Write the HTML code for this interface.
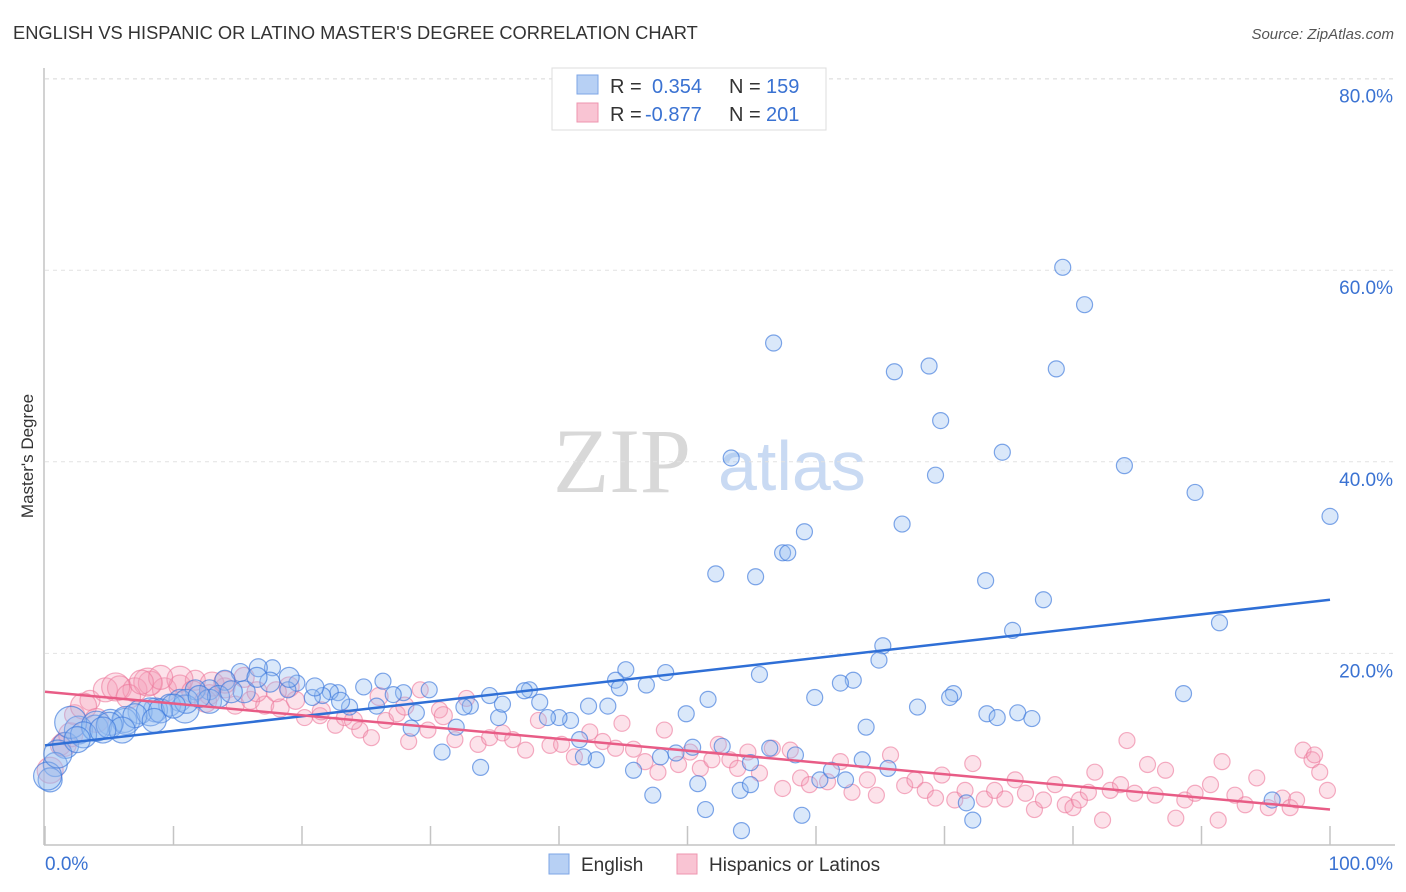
<!DOCTYPE html>
<html><head><meta charset="utf-8">
<style>
body{margin:0;background:#fff;font-family:"Liberation Sans",sans-serif;}
#wrap{position:relative;width:1406px;height:892px;overflow:hidden;}
</style></head>
<body>
<div id="wrap">
<svg id="svg" width="1406" height="892" xmlns="http://www.w3.org/2000/svg">
<text x="13" y="39" font-size="18.3" fill="#333">ENGLISH VS HISPANIC OR LATINO MASTER'S DEGREE CORRELATION CHART</text>
<text x="1394" y="39" font-size="15" fill="#555" font-style="italic" text-anchor="end">Source: ZipAtlas.com</text>
<text x="33" y="456" font-size="17" fill="#333" text-anchor="middle" transform="rotate(-90 33 456)">Master's Degree</text>
<g>
<text x="553" y="492" font-size="92" font-family="Liberation Serif,serif" fill="#d8d8d8">ZIP</text>
<text x="718" y="490" font-size="70" fill="#c9daf3">atlas</text>
</g>
<g id="grid"></g>
<g id="axes"></g>
<g id="marks"></g>
<g>
<rect x="552" y="68" width="274" height="62" fill="#fff" stroke="#ddd"/>
<rect x="577" y="75" width="21" height="19" fill="#b7d0f4" stroke="#7ea6e6"/>
<rect x="577" y="103" width="21" height="19" fill="#f9c4d3" stroke="#ee95af"/>
<text x="610" y="93" font-size="20" fill="#333">R = </text><text x="652" y="93" font-size="20" fill="#3a72d2">0.354</text>
<text x="729" y="93" font-size="20" fill="#333">N = </text><text x="766" y="93" font-size="20" fill="#3a72d2">159</text>
<text x="610" y="121" font-size="20" fill="#333">R = </text><text x="645" y="121" font-size="20" fill="#3a72d2">-0.877</text>
<text x="729" y="121" font-size="20" fill="#333">N = </text><text x="766" y="121" font-size="20" fill="#3a72d2">201</text>
</g>
<g>
<rect x="549" y="854" width="20" height="20" fill="#b7d0f4" stroke="#7ea6e6"/>
<text x="581" y="871" font-size="19" fill="#333">English</text>
<rect x="677" y="854" width="20" height="20" fill="#f9c4d3" stroke="#ee95af"/>
<text x="709" y="871" font-size="19" fill="#333">Hispanics or Latinos</text>
</g>
</svg>
</div>
<script>
const yTicks=[20,40,60,80];
const yTickLabels=["20.0%","40.0%","60.0%","80.0%"];
const xTicks=[0,10,20,30,40,50,60,70,80,90,100];
const englishX=[79.2,80.9,56.7,66.1,68.8,78.7,69.7,53.4,74.5,84.0,69.3,89.5,100,66.7,59.1,57.4,57.8,52.2,55.3,73.2,77.7,91.4,75.3,65.2,64.9,45.2,48.3,55.6,62.9,61.9,44.4,46.8,44.7,70.7,70.4,88.6,59.9,51.6,67.9,73.3,74.1,75.7,76.8,49.9,63.9,43.8,42.3,40.9,40.0,39.1,38.5,37.7,37.3,35.3,34.6,35.6,33.1,32.6,32.0,30.9,33.9,29.9,28.9,28.5,27.9,27.1,26.3,25.8,24.8,23.7,22.8,22.2,21.6,20.8,19.6,18.9,17.7,16.6,15.2,14.0,12.8,11.7,10.5,9.7,8.6,7.4,6.2,5.1,3.9,2.6,1.6,0.8,0.4,41.6,42.9,41.9,47.9,49.1,50.4,52.7,54.9,56.4,58.4,45.8,47.3,50.8,51.4,54.1,54.2,54.9,58.9,60.3,61.2,62.3,63.6,65.6,71.7,72.2,95.5,0.2,2.0,4.0,6.3,8.2,10.9,12.8,3.0,5.0,7.0,9.0,11.0,13.5,15.5,17.5,19.0,21.0,23.0,6.0,8.5,10.0,12.0,14.5,16.5,1.0,2.5,4.5];
const englishY=[60.3,56.4,52.4,49.4,50.0,49.7,44.3,40.4,41.0,39.6,38.6,36.8,34.3,33.5,32.7,30.5,30.5,28.3,28.0,27.6,25.6,23.2,22.4,20.8,19.3,18.3,18.0,17.8,17.2,16.9,17.2,16.7,16.4,15.8,15.4,15.8,15.4,15.2,14.4,13.7,13.3,13.8,13.2,13.7,12.3,14.5,14.5,13.0,13.3,13.3,14.9,16.2,16.1,13.3,15.6,14.7,14.5,14.4,12.3,9.7,8.1,16.2,13.8,12.2,15.9,15.7,17.1,14.5,16.5,14.4,15.9,16.0,15.6,15.4,16.9,16.2,18.5,18.5,18.0,17.2,16.2,16.2,15.1,14.6,14.1,13.9,13.0,12.8,12.2,12.0,10.4,8.4,6.8,11.0,8.9,9.2,9.2,9.6,10.2,10.3,8.6,10.1,9.4,7.8,5.2,6.4,3.7,5.7,1.5,6.3,3.1,6.8,7.8,6.8,8.9,8.0,4.4,2.6,4.7,7.2,12.8,12.4,13.0,13.9,14.2,15.0,11.5,12.5,13.5,14.0,15.0,15.5,16.0,17.0,17.5,16.5,15.0,12.0,13.0,14.5,15.5,16.0,17.5,9.5,11.0,12.0];
const englishSize=[8,8,8,8,8,8,8,8,8,8,8,8,8,8,8,8,8,8,8,8,8,8,8,8,8,8,8,8,8,8,8,8,8,8,8,8,8,8,8,8,8,8,8,8,8,8,8,8,8,8,8,8,8,8,8,8,8,8,8,8,8,8,8,8,8,8,8,8,8,8,8,8,8,8,8,8,8,9,9,10,10,10,11,11,12,12,12,13,13,14,13,12,12,8,8,8,8,8,8,8,8,8,8,8,8,8,8,8,8,8,8,8,8,8,8,8,8,8,8,14,16,15,14,14,14,12,13,13,12,12,12,11,11,10,10,9,9,13,12,12,11,11,10,14,13,13];
const hispX=[0.4,1.2,2.3,3.5,4.7,5.8,7.0,8.2,9.3,10.5,11.7,12.8,14.0,14.8,16.0,17.1,18.3,19.5,20.2,21.4,22.6,23.3,24.5,25.4,26.5,27.4,28.3,29.2,29.8,30.7,31.9,32.8,33.7,34.6,35.6,36.4,37.4,38.4,39.3,40.2,41.2,42.4,43.4,44.4,44.9,45.8,46.7,47.7,48.2,49.3,50.2,51.0,51.9,52.4,53.3,53.9,54.7,55.6,56.6,57.4,58.0,58.8,59.5,60.9,61.9,62.8,64.0,64.7,65.8,66.9,67.7,68.5,69.3,69.8,70.8,71.6,72.2,73.1,73.9,74.7,75.5,76.3,77.0,77.7,78.6,79.4,80.0,80.5,81.2,81.7,82.3,82.9,83.7,84.2,84.8,85.8,86.4,87.2,88.0,88.7,89.5,90.7,91.6,91.3,92.6,93.4,94.3,95.2,96.3,96.9,97.4,97.9,98.6,99.2,99.8,98.8,1.5,3.0,5.5,8.0,10.5,13.0,4.0,6.5,9.0,11.5,14.0,16.5,19.0,21.5,24.0,26.0,28.0,31.0,2.0,7.5,12.5,15.5,18.0];
const hispY=[7.8,10.4,13.6,15.1,16.2,16.4,16.2,16.9,16.2,16.6,17.2,15.7,16.4,14.6,15.1,14.6,14.3,15.1,13.3,13.5,12.5,13.3,12.0,11.2,13.0,13.7,10.8,16.2,12.0,14.1,11.0,15.3,10.5,11.2,11.7,11.0,9.9,13.0,10.4,10.5,9.2,11.8,10.8,10.1,12.7,10.0,8.7,7.6,12.0,8.4,9.7,8.0,8.9,10.5,8.9,8.0,9.7,7.5,10.1,5.9,9.9,7.0,6.3,6.6,8.7,5.5,6.8,5.2,9.4,6.2,6.8,5.7,4.9,7.3,4.7,5.7,8.5,4.8,5.7,4.8,6.8,5.4,3.7,4.7,6.3,4.2,3.9,4.7,5.5,7.6,2.6,5.7,6.3,10.9,5.4,8.4,5.2,7.8,2.8,4.7,5.4,6.3,8.7,2.6,5.2,4.2,7.0,3.9,4.9,3.9,4.7,9.9,8.9,7.6,5.7,9.4,10.5,14.5,16.5,17.0,17.3,16.8,13.0,15.5,17.5,16.0,17.0,16.0,16.5,14.0,13.0,15.5,14.5,13.5,11.5,17.0,15.0,17.5,16.0];
const hispSize=[13,10,10,10,12,12,12,12,12,11,10,10,10,9,9,9,9,9,8,8,8,8,8,8,8,8,8,8,8,8,8,8,8,8,8,8,8,8,8,8,8,8,8,8,8,8,8,8,8,8,8,8,8,8,8,8,8,8,8,8,8,8,8,8,8,8,8,8,8,8,8,8,8,8,8,8,8,8,8,8,8,8,8,8,8,8,8,8,8,8,8,8,8,8,8,8,8,8,8,8,8,8,8,8,8,8,8,8,8,8,8,8,8,8,8,8,12,13,14,14,13,12,12,12,12,11,11,10,10,9,9,9,9,9,12,12,11,10,10];
const englishTrend=[10.4,25.6];
const hispTrend=[16.0,3.7];

const X0=45,X1=1330,Y0=845,PPY=9.58;
function sx(v){return X0+(X1-X0)*v/100;}
function sy(v){return Y0-v*PPY;}
const NS="http://www.w3.org/2000/svg";
function mk(tag,attrs,parent){const e=document.createElementNS(NS,tag);for(const k in attrs)e.setAttribute(k,attrs[k]);document.getElementById(parent).appendChild(e);return e;}

yTicks.forEach((t,i)=>{
  const g=mk('line',{x1:45,x2:1395,y1:sy(t),y2:sy(t),stroke:'#e2e2e2','stroke-dasharray':'4,4'},'grid');
  
  
  const l=mk('text',{x:1393,y:sy(t)+24,'font-size':19,fill:'#3a72d2','text-anchor':'end'},'grid');
  l.textContent=yTickLabels[i];
  
  
});
const gridTop=mk('line',{x1:45,x2:1395,y1:79,y2:79,stroke:'#e2e2e2','stroke-dasharray':'4,4'},'grid');


const ya=mk('line',{x1:44,x2:44,y1:68,y2:845,stroke:'#c4c4c4','stroke-width':1.5},'axes');


const xa=mk('line',{x1:44,x2:1395,y1:845,y2:845,stroke:'#c4c4c4','stroke-width':1.5},'axes');


xTicks.forEach(t=>{
  const tk=mk('line',{x1:sx(t),x2:sx(t),y1:826,y2:845,stroke:'#c4c4c4','stroke-width':1.5},'axes');
  
  
});
const xl0=mk('text',{x:45,y:870,'font-size':19,fill:'#3a72d2'},'axes');xl0.textContent='0.0%';


const xl1=mk('text',{x:1393,y:870,'font-size':19,fill:'#3a72d2','text-anchor':'end'},'axes');xl1.textContent='100.0%';



hispX.forEach((v,i)=>{
  const c=mk('circle',{cx:sx(v),cy:sy(hispY[i]),r:hispSize[i],fill:'rgba(246,160,185,0.3)',stroke:'rgba(236,120,155,0.6)','stroke-width':1.2},'marks');
  
  
});
englishX.forEach((v,i)=>{
  const c=mk('circle',{cx:sx(v),cy:sy(englishY[i]),r:englishSize[i],fill:'rgba(150,190,240,0.35)',stroke:'rgba(60,120,220,0.65)','stroke-width':1.2},'marks');
  
  
});
const t1=mk('line',{x1:sx(0),y1:sy(englishTrend[0]),x2:sx(100),y2:sy(englishTrend[1]),stroke:'#2f6fd6','stroke-width':2.5},'marks');


const t2=mk('line',{x1:sx(0),y1:sy(hispTrend[0]),x2:sx(100),y2:sy(hispTrend[1]),stroke:'#e85c86','stroke-width':2.5},'marks');


</script>
</body></html>
